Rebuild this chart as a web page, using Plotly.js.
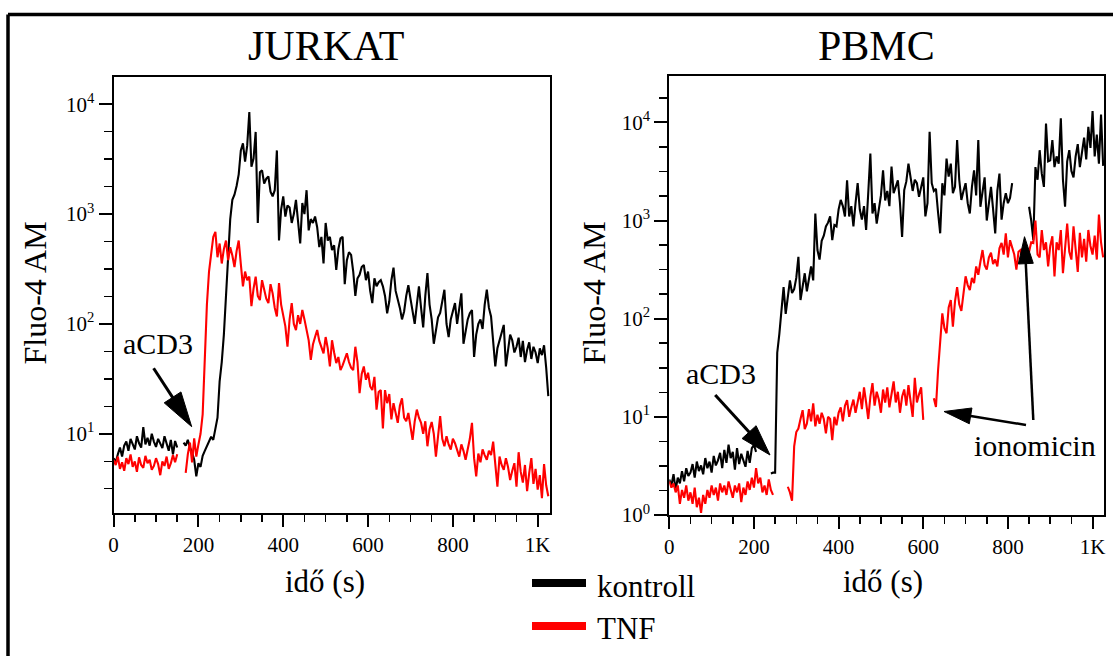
<!DOCTYPE html>
<html>
<head>
<meta charset="utf-8">
<script src="https://cdn.plot.ly/plotly-3.0.1.min.js"></script>
<style>html,body{margin:0;padding:0;background:#fff;}#chart{width:1113px;height:656px;}</style>
</head>
<body>
<div id="chart"></div>
<script>
// ---------------- DATA (sampled every 5 s, null = gap in recording) ----------------
const timeStep = 5;

const jurkatKontroll = [
  6, 5.5, 6.5, 7.5, 6.2, 7.8, 8.5, 7, 9, 8,
  7.2, 9.5, 8.2, 7.5, 11.5, 8, 9.2, 7.8, 10, 8.5,
  7.6, 9, 8.2, 7.4, 9.5, 8, 7, 8.8, 6.5, 8.6,
  7.5, null, null, 8.3, 7.8, 8.8, 7.5, 6.8, 5.8, 4.1,
  5.4, 5, 6.3, 7, 7.8, 8.5, 9.4, 8.8, 11, 14,
  30, 45, 80, 180, 420, 900, 1350, 1500, 1800, 2300,
  3800, 4400, 3000, 4200, 8500, 2700, 3200, 5600, 830, 2400,
  2500, 1900, 2100, 2200, 1600, 1450, 1650, 3800, 575, 1100,
  1450, 950, 1200, 1150, 830, 1000, 1350, 900, 540, 1260,
  1000, 1650, 710, 900, 830, 950, 760, 500, 620, 355,
  830, 575, 620, 470, 520, 310, 480, 600, 620, 230,
  380, 450, 425, 300, 180, 260, 280, 330, 345, 250,
  300, 200, 155, 260, 220, 240, 250, 220, 180, 125,
  160, 250, 325, 200, 170, 140, 110, 130, 180, 225,
  170, 130, 100, 150, 220, 140, 93, 180, 290, 150,
  110, 66, 90, 115, 126, 160, 205, 100, 76, 110,
  130, 155, 100, 140, 190, 66, 90, 110, 125, 134,
  50, 80, 100, 110, 90, 150, 205, 140, 117, 71,
  41, 60, 71, 85, 98, 41, 60, 80, 71, 55,
  62, 75, 50, 70, 45, 58, 68, 48, 62, 55,
  44, 60, 52, 64, 40, 22
];

const jurkatTNF = [
  5.8, 5.2, 6.2, 4.8, 5.5, 4.6, 6, 5.3, 6.5, 5,
  5.6, 4.5, 6.1, 5.2, 4.9, 6.3, 5.4, 5.8, 4.7, 5.1,
  6, 5.3, 4.2, 5.6, 5.1, 6.2, 4.8, 5.4, 6.4, 5.5,
  6.5, null, null, null, 4.4, 6.5, 8.3, 5.5, 9.1, 6.2,
  8, 10, 15, 50, 150, 300, 450, 620, 690, 405,
  540, 355, 480, 575, 380, 500, 420, 330, 460, 575,
  350, 220, 300, 250, 270, 145, 210, 270, 180, 165,
  250, 200, 170, 155, 230, 190, 140, 117, 235, 150,
  120, 95, 62, 110, 155, 100, 88, 120, 100, 134,
  110, 85, 71, 47, 65, 76, 88, 70, 60, 54,
  76, 60, 41, 71, 55, 44, 50, 38, 42, 47,
  54, 45, 40, 38, 62, 45, 23.4, 35, 41, 31,
  36, 27, 25, 33, 16.6, 24, 25, 11.2, 25, 19,
  23, 13.5, 19, 15.5, 12.6, 18, 21, 14, 13, 15.5,
  11, 8.8, 13, 16.6, 14, 12.6, 10, 13, 7.7, 11,
  12.8, 10, 6.2, 9, 14.5, 9, 7.7, 9.5, 8, 7.2,
  9, 8.2, 7, 6.2, 8, 7, 5.8, 7.4, 9, 12.6,
  6, 4.1, 6.6, 5.5, 7.2, 6.4, 5.8, 7, 6.4, 8.5,
  5, 3.3, 6.2, 5.2, 4.7, 6, 5, 3.8, 4.6, 5.4,
  3.3, 6.8, 4.5, 3.6, 5.2, 3, 4.4, 6, 3.5, 4.8,
  3.1, 4.2, 2.6, 5.3, 3.4, 2.7
];

const pbmcKontroll = [
  2.3, 2, 2.6, 1.8, 2.4, 2.1, 2.8, 2.2, 3, 2.5,
  2.7, 3.3, 2.4, 3.5, 2.8, 3.2, 2.6, 3.8, 3, 3.5,
  2.7, 4, 3.2, 3.6, 4.3, 3, 4.6, 3.4, 5.2, 3.8,
  4.4, 2.9, 4.8, 3.3, 4.2, 3.6, 3.1, 4.5, 3.4, 4.8,
  5.2, 4.4, null, null, null, null, null, null, 2.65, 2.7,
  2.7, 45, 70, 132, 210, 112, 170, 245, 182, 200,
  260, 427, 155, 220, 290, 190, 250, 340, 245, 1180,
  500, 400, 620, 700, 870, 950, 1100, 630, 900, 870,
  1300, 1620, 1400, 1100, 2570, 1100, 1400, 870, 1500, 2400,
  1300, 1020, 1400, 800, 1900, 4800, 1180, 1500, 930, 1300,
  1800, 3240, 1600, 2000, 1400, 3550, 1900, 2200, 2570, 1500,
  680, 2040, 2500, 3800, 2750, 2000, 2600, 2400, 1740, 2200,
  2750, 1100, 1500, 8000, 2400, 2000, 2100, 1200, 740, 2400,
  1800, 4270, 2800, 3800, 1900, 2200, 6600, 2600, 1620, 2000,
  2400, 1500, 1180, 2200, 3240, 1800, 6600, 1380, 2000, 2750,
  1000, 1500, 2200, 1300, 740, 2000, 3000, 1020, 1500, 1900,
  1500, 1700, 2400, null, null, null, null, null, null, null,
  1380, 1000, 630, 3500, 2600, 5200, 3000, 2200, 9700, 4000,
  4100, 6600, 3500, 4500, 3800, 11000, 2600, 1380, 4000, 5200,
  3200, 2750, 4500, 6000, 3500, 5000, 7000, 4200, 9000, 5500,
  13000, 4500, 7500, 3800, 12000, 3600
];

const pbmcTNF = [
  2.2, 1.9, 2.1, 1.7, 2.0, 1.3, 1.8, 1.5, 2, 1.4,
  1.7, 1.3, 1.9, 1.2, 1.5, 1.05, 1.6, 1.3, 1.8, 1.5,
  2, 1.6, 1.9, 1.4, 2.1, 1.7, 2, 1.6, 2.2, 1.8,
  1.5, 2, 1.7, 2.1, 1.35, 1.9, 1.6, 2.2, 1.8, 2.4,
  1.9, 3.0, 2.1, 2.4, 1.7, 2.0, 1.6, 2.3, 1.8, 1.6,
  null, null, null, null, null, null, 1.94, 1.7, 1.4, 5,
  7, 7.6, 9.5, 11.7, 7.5, 8.5, 12, 9, 13.7, 8,
  10.5, 8.5, 11, 9.5, 6.8, 10, 9.5, 5.8, 10, 8.2,
  11, 12.5, 9, 13, 14.8, 10, 12.5, 15, 11, 14,
  18, 12, 20, 14, 9.5, 16, 22, 13, 18, 15,
  11, 19, 14, 20, 12.5, 17, 23, 14, 18, 11,
  16, 19, 13, 21, 15, 10, 25, 14, 17, 20,
  9.3, null, null, null, null, 15.5, 12.6, 30, 60, 113,
  80, 71, 130, 155, 83, 150, 210, 140, 120, 190,
  270, 220, 195, 260, 230, 340, 280, 380, 500, 350,
  316, 420, 470, 360, 400, 340, 520, 590, 450, 740,
  420, 630, 520, 450, 316, 480, 500, 380, 560, 400,
  480, 600, 590, 1000, 450, 420, 800, 500, 600, 340,
  550, 690, 270, 600, 500, 800, 290, 520, 930, 480,
  400, 870, 500, 300, 750, 420, 650, 380, 800, 550,
  450, 700, 400, 1150, 600, 420
];

const seriesNames = ['kontroll', 'TNF'];
const panelTitles = ['JURKAT', 'PBMC'];
const xTickVals = [0, 200, 400, 600, 800, 1000];
const xTickText = ['0', '200', '400', '600', '800', '1K'];
const yTickVals = [1, 10, 100, 1000, 10000];
const yTickText = ['10<sup>0</sup>', '10<sup>1</sup>', '10<sup>2</sup>', '10<sup>3</sup>', '10<sup>4</sup>'];
const yMinorVals = [1.778, 3.162, 5.623, 17.78, 31.62, 56.23, 177.8, 316.2, 562.3,
                    1778, 3162, 5623, 17783];

// ---------------- LAYOUT ----------------
const W = 1113, H = 656;
const X = px => px / W;
const Y = py => 1 - py / H;
const FONT = 'Liberation Serif, Times New Roman, serif';
const BLACK = '#000000', RED = '#ff0000';

const times = arr => arr.map((_, i) => i * timeStep);

const traces = [
  {x: times(jurkatKontroll), y: jurkatKontroll, name: seriesNames[0], xaxis: 'x', yaxis: 'y'},
  {x: times(jurkatTNF), y: jurkatTNF, name: seriesNames[1], xaxis: 'x', yaxis: 'y'},
  {x: times(pbmcKontroll), y: pbmcKontroll, name: seriesNames[0], xaxis: 'x2', yaxis: 'y2'},
  {x: times(pbmcTNF), y: pbmcTNF, name: seriesNames[1], xaxis: 'x2', yaxis: 'y2'}
].map((t, i) => Object.assign(t, {
  type: 'scatter', mode: 'lines', connectgaps: false, showlegend: false,
  line: {color: (i % 2 === 0) ? BLACK : RED, width: 2.1}
}));

function xAxis(domain, range, anchor) {
  return {
    domain, range, anchor, showgrid: false, zeroline: false,
    showline: true, linecolor: BLACK, linewidth: 2, mirror: true,
    ticks: 'outside', ticklen: 12, tickwidth: 2, tickcolor: BLACK,
    tickmode: 'array', tickvals: xTickVals, ticktext: xTickText,
    tickfont: {family: FONT, size: 21, color: BLACK},
    minor: {tickmode: 'linear', tick0: 0, dtick: 50, ticks: 'outside', ticklen: 7, tickwidth: 1.5, tickcolor: BLACK}
  };
}
function yAxis(domain, range, anchor) {
  return {
    type: 'log', domain, range, anchor, showgrid: false, zeroline: false,
    showline: true, linecolor: BLACK, linewidth: 2, mirror: true,
    ticks: 'outside', ticklen: 13, tickwidth: 2, tickcolor: BLACK,
    tickmode: 'array', tickvals: yTickVals, ticktext: yTickText,
    tickfont: {family: FONT, size: 21, color: BLACK},
    minor: {tickmode: 'array', tickvals: yMinorVals, ticks: 'outside', ticklen: 8, tickwidth: 1.5, tickcolor: BLACK}
  };
}

function text(t, x, y, size, opts) {
  return Object.assign({
    text: t, xref: 'paper', yref: 'paper', x: X(x), y: Y(y),
    xanchor: 'center', yanchor: 'middle', showarrow: false,
    font: {family: FONT, size, color: BLACK}
  }, opts || {});
}

function arrow(tail, tip, headLen, headWidth, lw) {
  const dx = tip[0] - tail[0], dy = tip[1] - tail[1];
  const len = Math.hypot(dx, dy);
  const ux = dx / len, uy = dy / len;
  const bx = tip[0] - ux * headLen, by = tip[1] - uy * headLen;
  const nx = -uy, ny = ux;
  const p1 = [bx + nx * headWidth / 2, by + ny * headWidth / 2];
  const p2 = [bx - nx * headWidth / 2, by - ny * headWidth / 2];
  return [
    {type: 'line', xref: 'paper', yref: 'paper', x0: X(tail[0]), y0: Y(tail[1]),
     x1: X(bx + ux * 3), y1: Y(by + uy * 3), line: {color: BLACK, width: lw}},
    {type: 'path', xref: 'paper', yref: 'paper',
     path: 'M' + X(tip[0]) + ',' + Y(tip[1]) + ' L' + X(p1[0]) + ',' + Y(p1[1]) + ' L' + X(p2[0]) + ',' + Y(p2[1]) + ' Z',
     fillcolor: BLACK, line: {color: BLACK, width: 1}}
  ];
}

const shapes = [].concat(
  // outer frame (top + left edges visible)
  [{type: 'line', xref: 'paper', yref: 'paper', x0: X(8), y0: Y(14.5), x1: X(1113), y1: Y(14.5), line: {color: BLACK, width: 3.5}},
   {type: 'line', xref: 'paper', yref: 'paper', x0: X(8), y0: Y(14.5), x1: X(8), y1: Y(656), line: {color: BLACK, width: 3.5}}],
  arrow([153.6, 368.3], [191.7, 426.7], 35, 20, 3),
  arrow([715.2, 395], [770, 455], 31, 19, 3),
  arrow([1026, 425], [944, 411.5], 27, 16, 2.5),
  arrow([1033.3, 420], [1024.5, 236.7], 27, 15, 2.5),
  // legend swatches
  [{type: 'line', xref: 'paper', yref: 'paper', x0: X(532), y0: Y(583), x1: X(586), y1: Y(583), line: {color: BLACK, width: 8}},
   {type: 'line', xref: 'paper', yref: 'paper', x0: X(532), y0: Y(626), x1: X(586), y1: Y(626), line: {color: RED, width: 8}}]
);

const annotations = [
  text(panelTitles[0], 326, 46, 42),
  text(panelTitles[1], 876, 46, 42),
  text('Fluo-4 AM', 34, 293.5, 32, {textangle: -90}),
  text('Fluo-4 AM', 593, 293.5, 32, {textangle: -90}),
  text('idő (s)', 325, 581, 31),
  text('idő (s)', 883, 581, 31),
  text('aCD3', 158, 343, 30),
  text('aCD3', 720.5, 373, 30),
  text('ionomicin', 1034.5, 445, 30),
  text(seriesNames[0], 595, 586, 31, {xanchor: 'left'}),
  text(seriesNames[1], 595, 628, 31, {xanchor: 'left'})
];

const layout = {
  width: W, height: H,
  margin: {l: 0, r: 0, t: 0, b: 0},
  paper_bgcolor: '#ffffff', plot_bgcolor: '#ffffff',
  showlegend: false, hovermode: false,
  xaxis: xAxis([X(113.6), X(550)], [0, 1029], 'y'),
  yaxis: yAxis([Y(513), Y(77)], [0.279, 4.248], 'x'),
  xaxis2: xAxis([X(669.3), X(1104)], [0, 1027], 'y2'),
  yaxis2: yAxis([Y(515), Y(75.7)], [0, 4.475], 'x2'),
  shapes, annotations
};

Plotly.newPlot('chart', traces, layout, {displayModeBar: false, staticPlot: true});
</script>
</body>
</html>
